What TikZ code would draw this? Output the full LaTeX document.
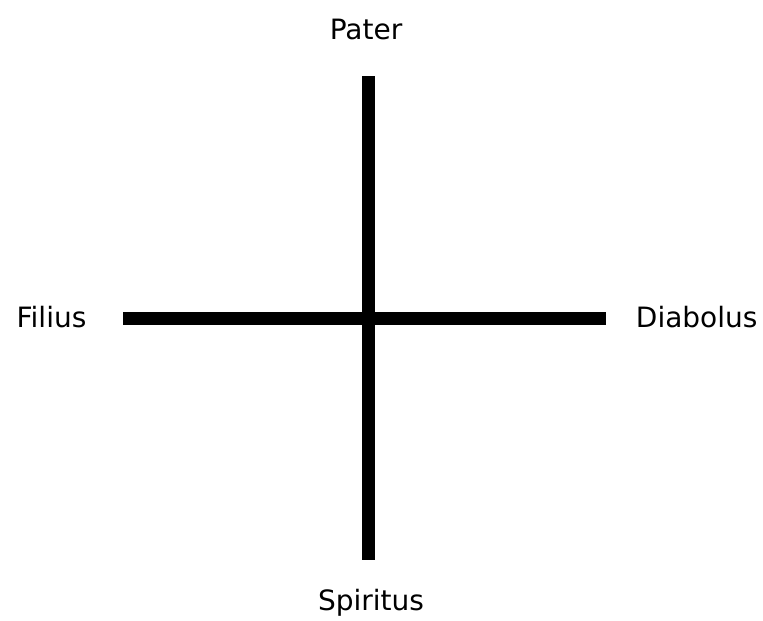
\documentclass[tikz,border=0pt]{standalone}
\usepackage{fontspec}
\setmainfont{DejaVu Sans}
\begin{document}
\begin{tikzpicture}[x=1pt,y=-1pt,font=\fontsize{28}{33}\selectfont,
		label/.style={anchor=base,inner sep=0pt},
		bar/.style={line width=12.5pt,black}]
	\useasboundingbox (0,0) rectangle (763,621);
	% Enden der Balken
	\coordinate (top) at (368.5,76);
	\coordinate (bottom) at (368.5,560);
	\coordinate (left) at (123,318.5);
	\coordinate (right) at (606,318.5);
	% Balken
	\draw[bar] (top) -- (bottom);
	\draw[bar] (left) -- (right);
	% Beschriftungen
	\node[label] (pater) at (366,39) {Pater};
	\node[label] (spiritus) at (371,610) {Spiritus};
	\node[label] (filius) at (51.5,327) {Filius};
	\node[label] (diabolus) at (696.7,327) {Diabolus};
\end{tikzpicture}
\end{document}
